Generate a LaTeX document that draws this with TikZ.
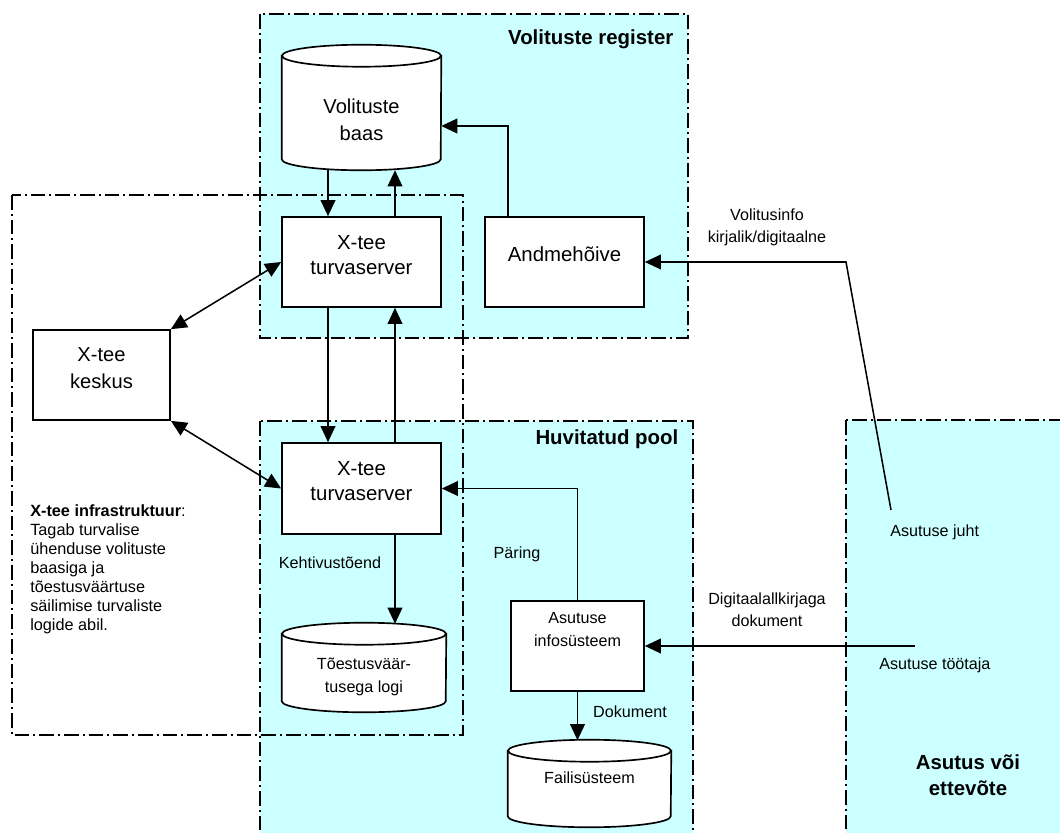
\documentclass[tikz,border=0pt]{standalone}
\usepackage{fontspec}
\setmainfont{Liberation Sans}
\usetikzlibrary{arrows.meta,calc,fit}
\definecolor{regcyan}{HTML}{CCFFFF}
\newcommand\cylshape[2]{%
  \draw[boxline, fill=white] ($(#1.north west)+(0,11)$) -- ($(#1.south west)+(0,-11)$)
     arc[start angle=180, end angle=0, x radius=#2, y radius=11]
     -- ($(#1.north east)+(0,11)$) -- cycle;
  \draw[boxline, fill=white] ($(#1.north)+(0,11)$) ellipse[x radius=#2, y radius=11];
}
\begin{document}
\begin{tikzpicture}[x=0.75pt,y=-0.75pt,
  region/.style={line width=1.5pt, dash pattern=on 11pt off 3pt on 1.5pt off 3pt},
  boxline/.style={line width=1.25pt},
  box/.style={draw, boxline, fill=white, inner sep=0pt, align=center},
  frame/.style={inner sep=0pt},
  big/.style={font=\fontsize{15.3}{18.8}\selectfont},
  bigwide/.style={font=\fontsize{15.1}{20.2}\selectfont, align=center},
  small/.style={font=\fontsize{12.1}{16.5}\selectfont, align=center},
  smallbox/.style={font=\fontsize{12.1}{17.2}\selectfont, align=center},
  title/.style={font=\bfseries\fontsize{15.3}{19.5}\selectfont, align=center},
  arr/.style={line width=1.15pt, -{Triangle[length=12pt,width=11pt]}},
  arrtwo/.style={line width=1.15pt, {Triangle[length=12pt,width=11pt]}-{Triangle[length=12pt,width=11pt]}}
]
\useasboundingbox (0,0) rectangle (1060,832);
\clip (0,0) rectangle (1060,832);

% regions
\fill[regcyan] (260,14) rectangle (688,338);
\fill[regcyan] (260,421) rectangle (693,850);
\fill[regcyan] (846,420) rectangle (1080,850);
\draw[region] (260,14) rectangle (688,338);
\draw[region] (260,421) rectangle (693,850);
\draw[region] (846,420) rectangle (1080,850);
\draw[region] (12,195) rectangle (463,735);

% titles
\node[title, anchor=east] (tvr) at (678,39) {Volituste register};
\node[title, anchor=east] (thp) at (683,439) {Huvitatud pool};
\node[title] (tae) at (968,775) {Asutus või\\ettevõte};

% boxes
\node[box, big, fit={(282,217) (441,307)}] (ts1) {X-tee\\turvaserver};
\node[box, big, fit={(485,217) (644,307)}] (andm) {Andmehõive};
\node[box, bigwide, fit={(33,330) (170,420)}] (keskus) {X-tee\\keskus};
\node[box, big, fit={(282,443) (441,534)}] (ts2) {X-tee\\turvaserver};
\node[box, smallbox, fit={(511,601) (644,691)}] (infos) {Asutuse\\infosüsteem\\\mbox{}};

% cylinders
\node[frame, fit={(282,45) (441,170)}] (baas) {};
\cylshape{baas}{79.5}
\node[bigwide] (baastxt) at (361.5,120) {Volituste\\baas};
\node[frame, fit={(282,623) (446,712)}] (logi) {};
\cylshape{logi}{82}
\node[smallbox] (logitxt) at (364,677) {Tõestusväär-\\tusega logi};
\node[frame, fit={(508,740) (671,827)}] (fail) {};
\cylshape{fail}{81.5}
\node[smallbox] (failtxt) at (589.5,778) {Failisüsteem};

% helper coordinates
\coordinate (xa) at (328,0);
\coordinate (xb) at (395,0);
\coordinate (xc) at (508,0);
\coordinate (yc) at (0,126);
\coordinate (juhtpt) at (891,510);
\coordinate (bend) at (846,262);
\coordinate (tootpt) at (915,646);

% connectors
\draw[arr] (baas.south -| xa) -- (ts1.north -| xa);
\draw[arr] (ts1.north -| xb) -- (baas.south -| xb);
\draw[arr] (ts1.south -| xa) -- (ts2.north -| xa);
\draw[arr] (ts2.north -| xb) -- (ts1.south -| xb);
\draw[arr] (andm.north -| xc) |- (baas.east |- yc);
\draw[arr] (juhtpt) -- (bend) -- (andm.east);
\draw[arrtwo] (keskus.north east) -- (ts1.west);
\draw[arrtwo] (keskus.south east) -- (ts2.west);
\draw[arr] (infos.north) |- (ts2.east);
\draw[arr] (ts2.south -| xb) -- ($(logi.north -| xb)+(0,1)$);
\draw[arr] (infos.south) -- ($(infos.south |- fail.north)+(0,0.5)$);
\draw[arr] (tootpt) -- (infos.east);

% labels
\node[small] (lvol) at (767,227) {Volitusinfo\\kirjalik/digitaalne};
\node[small] (ldig) at (767,610) {Digitaalallkirjaga\\dokument};
\node[small] (lkeh) at (330,563) {Kehtivustõend};
\node[small] (lpar) at (517,554) {Päring};
\node[small] (ldok) at (630,712) {Dokument};
\node[small, anchor=west, inner sep=0pt] (ljuht) at (890,532) {Asutuse juht};
\node[small, anchor=west, inner sep=0pt] (ltoot) at (879,665) {Asutuse töötaja};
\node[anchor=north west, inner sep=0pt, align=left, font=\fontsize{12.2}{14.25}\selectfont] (infra) at (30,504)
  {\textbf{X-tee infrastruktuur}:\\Tagab turvalise\\ühenduse volituste\\baasiga ja\\tõestusväärtuse\\säilimise turvaliste\\logide abil.};
\end{tikzpicture}
\end{document}
